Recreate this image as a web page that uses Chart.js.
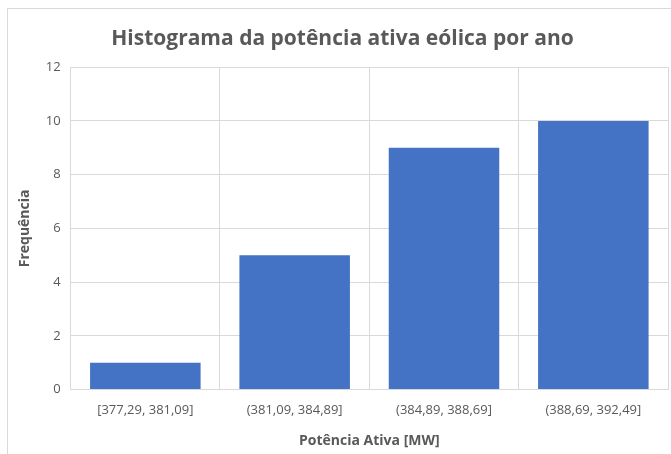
<!DOCTYPE html>
<html>
<head>
<meta charset="utf-8">
<script src="https://cdn.jsdelivr.net/npm/chart.js@4/dist/chart.umd.min.js"></script>
<style>
  body { margin: 0; background: #fff; }
  #frame { position: absolute; left: 7px; top: 8px; width: 700px; height: 500px; border: 1px solid #d9d9d9; }
  #wrap { position: absolute; left: 0; top: 0; width: 671px; height: 454px; }
</style>
</head>
<body>
<div id="frame"></div>
<div id="wrap"><canvas id="my-chart"></canvas></div>
<script>
'use strict';

// dados do histograma
let intervalos = ['[377,29, 381,09]', '(381,09, 384,89]', '(384,89, 388,69]', '(388,69, 392,49]'];
let frequencias = [1, 5, 9, 10];

const ctx = document.getElementById('my-chart').getContext('2d');
const cinza = '#595959';
const linha = '#d9d9d9';

const myChart = new Chart(ctx, {
  type: 'bar',
  data: {
    labels: intervalos,
    datasets: [{
      label: 'Frequência',
      data: frequencias,
      backgroundColor: '#4472c4',
      barPercentage: 0.74,
      categoryPercentage: 1
    }]
  },
  options: {
    responsive: true,
    maintainAspectRatio: false,
    animation: false,
    layout: { padding: { left: 17, right: 3, top: 14, bottom: 5 } },
    plugins: {
      legend: { display: false },
      tooltip: { enabled: false },
      title: {
        display: true,
        text: 'Histograma da potência ativa eólica por ano',
        color: cinza,
        font: { family: 'Open Sans', size: 21, weight: 'bold' },
        padding: { top: 12, bottom: 16 }
      }
    },
    scales: {
      x: {
        grid: { color: linha, drawTicks: false, offset: true },
        border: { color: linha },
        ticks: { color: cinza, font: { family: 'Open Sans', size: 13 }, padding: 13 },
        title: {
          display: true,
          text: 'Potência Ativa [MW]',
          color: cinza,
          font: { family: 'Open Sans', size: 14, weight: 'bold' },
          padding: { top: 1, bottom: 0 }
        }
      },
      y: {
        min: 0,
        max: 12,
        grid: { color: linha, drawTicks: false },
        border: { display: false },
        ticks: { stepSize: 2, color: cinza, font: { family: 'Open Sans', size: 13 }, padding: 10 },
        title: {
          display: true,
          text: 'Frequência',
          color: cinza,
          font: { family: 'Open Sans', size: 14, weight: 'bold' },
          padding: { top: 0, bottom: 2 }
        }
      }
    }
  }
});
</script>
</body>
</html>
